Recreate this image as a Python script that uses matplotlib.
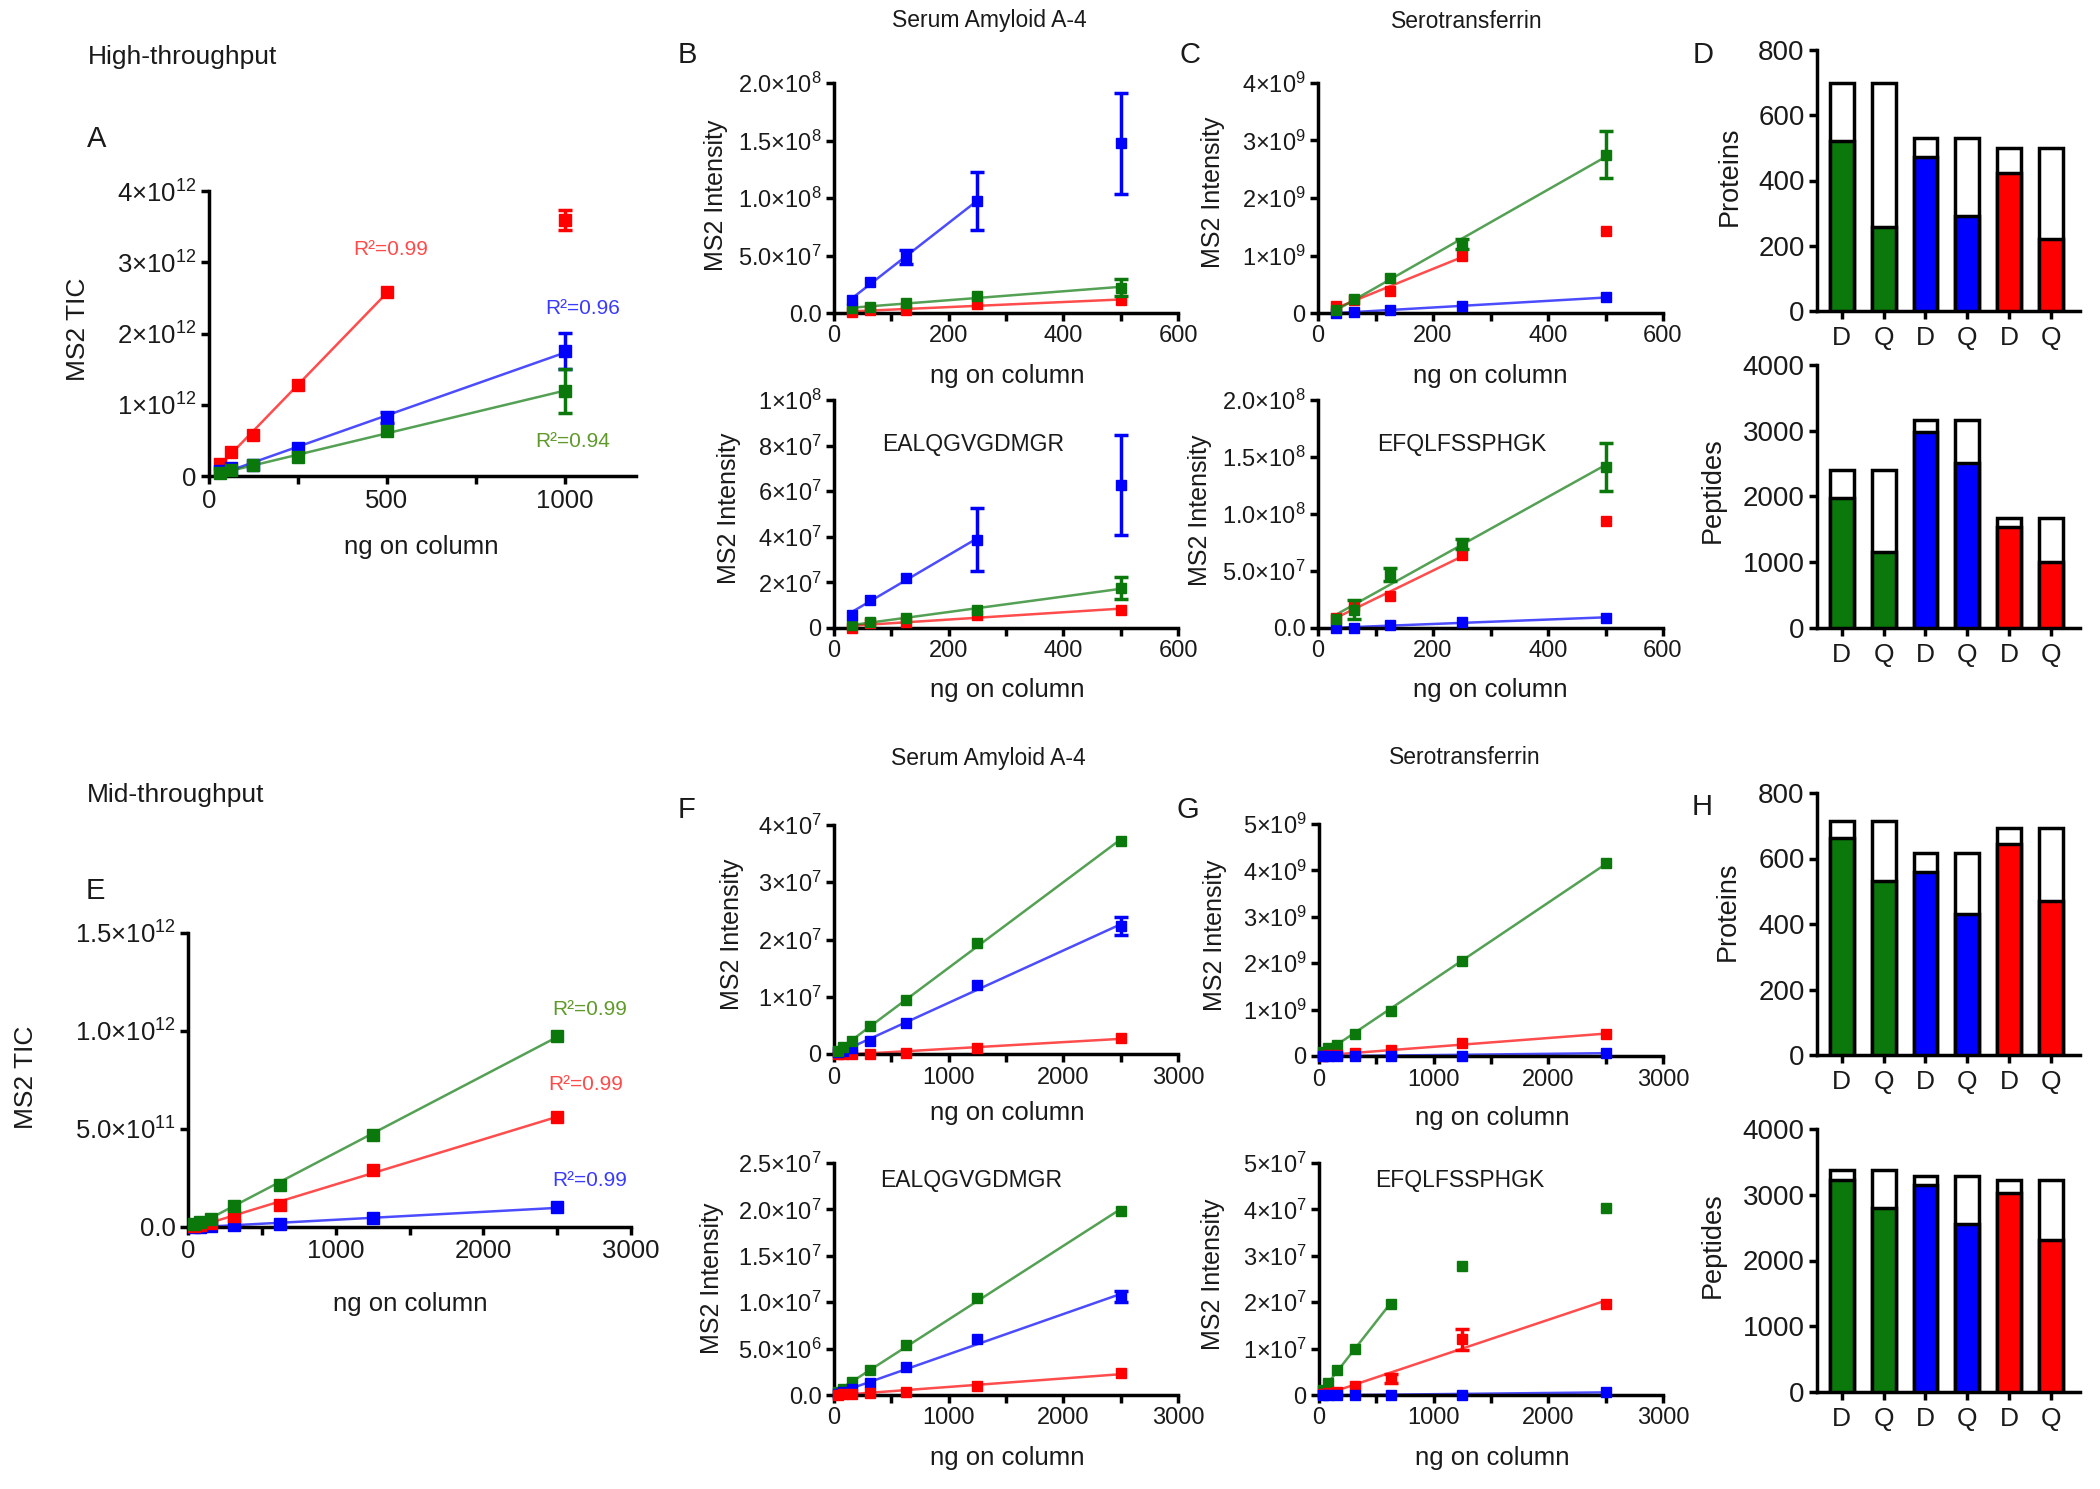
import numpy as np
import matplotlib
matplotlib.use('Agg')
import matplotlib.pyplot as plt

plt.rcParams['font.family'] = ['Liberation Sans', 'DejaVu Sans']
plt.rcParams['mathtext.fontset'] = 'custom'
plt.rcParams['mathtext.rm'] = 'Liberation Sans'
plt.rcParams['mathtext.it'] = 'Liberation Sans:italic'
plt.rcParams['mathtext.bf'] = 'Liberation Sans:bold'

GREEN = '#0b780b'
BLUE = '#0000ff'
RED = '#ff0000'

# ng on column
ng_high = [31.25, 62.5, 125, 250, 500, 1000]
ng_high_pep = [31.25, 62.5, 125, 250, 500]
ng_mid = [39.06, 78.125, 156.25, 312.5, 625, 1250, 2500]

# A - MS2 TIC, high-throughput
A_red = [0.17e12, 0.34e12, 0.58e12, 1.28e12, 2.58e12, 3.59e12]
A_red_err = [0, 0, 0, 0, 0, 0.14e12]
A_blue = [0.07e12, 0.11e12, 0.15e12, 0.39e12, 0.82e12, 1.755e12]
A_blue_err = [0, 0, 0, 0, 0.08e12, 0.255e12]
A_green = [0.04e12, 0.08e12, 0.15e12, 0.27e12, 0.63e12, 1.19e12]
A_green_err = [0, 0, 0, 0, 0, 0.31e12]

# B - Serum Amyloid A-4 (protein / EALQGVGDMGR)
B1_blue = [1.1e7, 2.7e7, 4.9e7, 9.75e7, 14.75e7]
B1_blue_err = [0, 0, 0.6e7, 2.5e7, 4.4e7]
B1_green = [0.4e7, 0.5e7, 0.9e7, 1.45e7, 2.2e7]
B1_green_err = [0, 0, 0, 0, 0.72e7]
B1_red = [0.05e7, 0.25e7, 0.3e7, 0.8e7, 1.1e7]
B2_blue = [0.58e7, 1.24e7, 2.2e7, 3.88e7, 6.26e7]
B2_blue_err = [0, 0, 0, 1.4e7, 2.2e7]
B2_green = [0.15e7, 0.25e7, 0.45e7, 0.8e7, 1.75e7]
B2_green_err = [0, 0, 0, 0, 0.47e7]
B2_red = [0.0, 0.2e7, 0.25e7, 0.55e7, 0.8e7]

# C - Serotransferrin (protein / EFQLFSSPHGK)
C1_green = [0.05e9, 0.25e9, 0.61e9, 1.2e9, 2.75e9]
C1_green_err = [0, 0, 0, 0.09e9, 0.41e9]
C1_red = [0.12e9, 0.22e9, 0.39e9, 1.0e9, 1.43e9]
C1_blue = [0.0, 0.01e9, 0.06e9, 0.12e9, 0.27e9]
C2_green = [0.08e8, 0.16e8, 0.47e8, 0.74e8, 1.41e8]
C2_green_err = [0, 0.085e8, 0.06e8, 0.045e8, 0.21e8]
C2_red = [0.09e8, 0.19e8, 0.28e8, 0.64e8, 0.94e8]
C2_blue = [0.0, 0.0, 0.03e8, 0.05e8, 0.09e8]

# E - MS2 TIC, mid-throughput
E_green = [0.014e12, 0.023e12, 0.043e12, 0.106e12, 0.215e12, 0.47e12, 0.977e12]
E_red = [0.005e12, 0.01e12, 0.02e12, 0.057e12, 0.11e12, 0.29e12, 0.56e12]
E_blue = [0.001e12, 0.002e12, 0.003e12, 0.01e12, 0.015e12, 0.045e12, 0.10e12]

# F - Serum Amyloid A-4, mid-throughput
F1_green = [0.06e7, 0.12e7, 0.22e7, 0.49e7, 0.94e7, 1.94e7, 3.72e7]
F1_blue = [0.03e7, 0.06e7, 0.1e7, 0.22e7, 0.545e7, 1.21e7, 2.23e7]
F1_blue_err = [0, 0, 0, 0, 0, 0, 0.16e7]
F1_red = [0.0, 0.0, 0.0, 0.0, 0.02e7, 0.105e7, 0.28e7]
F2_green = [0.03e7, 0.07e7, 0.137e7, 0.27e7, 0.54e7, 1.05e7, 1.98e7]
F2_blue = [0.015e7, 0.03e7, 0.06e7, 0.126e7, 0.3e7, 0.6e7, 1.06e7]
F2_blue_err = [0, 0, 0, 0, 0, 0, 0.06e7]
F2_red = [0.005e7, 0.01e7, 0.015e7, 0.025e7, 0.036e7, 0.097e7, 0.234e7]

# G - Serotransferrin, mid-throughput
G1_green = [0.08e9, 0.17e9, 0.24e9, 0.47e9, 0.96e9, 2.05e9, 4.16e9]
G1_red = [0.01e9, 0.02e9, 0.03e9, 0.07e9, 0.13e9, 0.27e9, 0.47e9]
G1_blue = [0, 0, 0, 0, 0.005e9, 0.01e9, 0.07e9]
G2_green = [0.1e7, 0.25e7, 0.54e7, 1.0e7, 1.97e7, 2.78e7, 4.02e7]
G2_red = [0.02e7, 0.05e7, 0.07e7, 0.2e7, 0.36e7, 1.2e7, 1.97e7]
G2_red_err = [0, 0, 0, 0, 0.1e7, 0.23e7, 0]
G2_blue = [0, 0, 0, 0, 0, 0, 0.07e7]

# D / H - identifications (total = open bar, filled = coloured part)
bar_labels = ['D', 'Q', 'D', 'Q', 'D', 'Q']
bar_colors = [GREEN, GREEN, BLUE, BLUE, RED, RED]
D_prot_total = [700, 700, 530, 530, 500, 500]
D_prot = [520, 258, 472, 290, 423, 220]
D_pep_total = [2400, 2400, 3170, 3170, 1675, 1675]
D_pep = [1975, 1155, 2985, 2515, 1540, 1000]
H_prot_total = [713, 713, 617, 617, 694, 694]
H_prot = [664, 530, 559, 431, 645, 471]
H_pep_total = [3375, 3375, 3285, 3285, 3228, 3228]
H_pep = [3228, 2800, 3150, 2560, 3028, 2315]

W, H = 2100, 1489
fig = plt.figure(figsize=(W / 100, H / 100), dpi=100)
TXT = '#1a1a1a'


def px_axes(x0, y0, x1, y1):
    return fig.add_axes([x0 / W, 1 - y1 / H, (x1 - x0) / W, (y1 - y0) / H])


def ftext(x, y, s, **kw):
    kw.setdefault('ha', 'center')
    kw.setdefault('va', 'center')
    kw.setdefault('color', TXT)
    fig.text(x / W, 1 - y / H, s, **kw)


def sci(v, dec):
    if v == 0:
        return '0' if dec == 0 else '0.' + '0' * dec
    e = int(np.floor(np.log10(v) + 1e-9))
    m = v / 10 ** e
    return '%.*f×10$^{%d}$' % (dec, m, e)


def style(ax, xmax, xmajor, xminor, yticks, ydec, fs=17):
    ax.set_xlim(0, xmax)
    ax.set_ylim(0, yticks[-1])
    for s in ['top', 'right']:
        ax.spines[s].set_visible(False)
    for s in ['left', 'bottom']:
        ax.spines[s].set_linewidth(2.5)
    ax.set_xticks(xmajor)
    ax.set_xticks(xminor, minor=True)
    ax.set_yticks(yticks)
    ax.set_yticklabels([sci(v, ydec) for v in yticks])
    ax.tick_params(which='both', direction='out', length=6, width=2.5,
                   labelsize=fs, colors='black', labelcolor=TXT, pad=3)
    ax.patch.set_alpha(0)


def curve(ax, x, y, color, n_fit, err=None, ms=6.5):
    x = np.asarray(x, float)
    y = np.asarray(y, float)
    coef = np.polyfit(x[:n_fit], y[:n_fit], 1)
    xf = np.array([x[0], x[n_fit - 1]])
    ax.plot(xf, np.polyval(coef, xf), color=color, lw=1.8, alpha=0.7, zorder=2)
    ax.plot(x, y, 's', color=color, ms=ms, zorder=4, clip_on=False)
    if err is not None:
        err = np.asarray(err, float)
        m = err > 0
        ax.errorbar(x[m], y[m], yerr=err[m], fmt='none', ecolor=color,
                    elinewidth=2.5, capsize=5, capthick=2.5, zorder=4, clip_on=False)


def bars(ax, total, found, yticks):
    pos = np.arange(len(total))
    ax.bar(pos, total, width=0.57, color='white', edgecolor='black', linewidth=2.5, zorder=2)
    ax.bar(pos, found, width=0.57, color=bar_colors, edgecolor='black', linewidth=2.5, zorder=3)
    ax.set_xlim(-0.59, 5.69)
    ax.set_ylim(0, yticks[-1])
    ax.set_xticks(pos)
    ax.set_xticklabels(bar_labels)
    ax.set_yticks(yticks)
    for s in ['top', 'right']:
        ax.spines[s].set_visible(False)
    for s in ['left', 'bottom']:
        ax.spines[s].set_linewidth(2.5)
    ax.tick_params(direction='out', length=6, width=2.5, labelsize=20, labelcolor=TXT, pad=3)
    ax.tick_params(axis='x', labelsize=19, pad=5)


x6 = ([0, 200, 400, 600], [100, 300, 500])
x3k = ([0, 1000, 2000, 3000], [500, 1500, 2500])

# ---- A
ax = px_axes(209, 191, 636, 476)
curve(ax, ng_high, A_red, RED, 5, A_red_err, ms=9)
curve(ax, ng_high, A_blue, BLUE, 6, A_blue_err, ms=9)
curve(ax, ng_high, A_green, GREEN, 6, A_green_err, ms=9)
style(ax, 1200, [0, 500, 1000], [250, 750], [0, 1e12, 2e12, 3e12, 4e12], 0, fs=18.5)
ax.text(512, 3.18e12, 'R²=0.99', color='#ff4a4a', fontsize=15, ha='center', va='center')
ax.text(1050, 2.35e12, 'R²=0.96', color='#3a3aff', fontsize=15, ha='center', va='center')
ax.text(1021, 0.48e12, 'R²=0.94', color='#5f9a2a', fontsize=15, ha='center', va='center')

# ---- B
ax = px_axes(834, 83, 1178, 313)
curve(ax, ng_high_pep, B1_red, RED, 5)
curve(ax, ng_high_pep, B1_green, GREEN, 5, B1_green_err)
curve(ax, ng_high_pep, B1_blue, BLUE, 4, B1_blue_err)
style(ax, 600, *x6, [0, 5e7, 1e8, 1.5e8, 2e8], 1)

ax = px_axes(834, 400, 1178, 628)
curve(ax, ng_high_pep, B2_red, RED, 5)
curve(ax, ng_high_pep, B2_green, GREEN, 5, B2_green_err)
curve(ax, ng_high_pep, B2_blue, BLUE, 4, B2_blue_err)
style(ax, 600, *x6, [0, 2e7, 4e7, 6e7, 8e7, 1e8], 0)

# ---- C
ax = px_axes(1318, 83, 1663, 313)
curve(ax, ng_high_pep, C1_blue, BLUE, 5)
curve(ax, ng_high_pep, C1_red, RED, 4)
curve(ax, ng_high_pep, C1_green, GREEN, 5, C1_green_err)
style(ax, 600, *x6, [0, 1e9, 2e9, 3e9, 4e9], 0)

ax = px_axes(1318, 400, 1663, 628)
curve(ax, ng_high_pep, C2_blue, BLUE, 5)
curve(ax, ng_high_pep, C2_red, RED, 4)
curve(ax, ng_high_pep, C2_green, GREEN, 5, C2_green_err)
style(ax, 600, *x6, [0, 5e7, 1e8, 1.5e8, 2e8], 1)

# ---- D
ax = px_axes(1817, 50, 2080, 311)
bars(ax, D_prot_total, D_prot, [0, 200, 400, 600, 800])
ax = px_axes(1817, 365, 2080, 628)
bars(ax, D_pep_total, D_pep, [0, 1000, 2000, 3000, 4000])

# ---- E
ax = px_axes(188, 933, 631, 1227)
curve(ax, ng_mid, E_blue, BLUE, 7, ms=9)
curve(ax, ng_mid, E_red, RED, 7, ms=9)
curve(ax, ng_mid, E_green, GREEN, 7, ms=9)
style(ax, 3000, *x3k, [0, 5e11, 1e12, 1.5e12], 1, fs=18.5)
ax.text(2721, 1.109e12, 'R²=0.99', color='#5f9a2a', fontsize=15, ha='center', va='center')
ax.text(2692, 0.728e12, 'R²=0.99', color='#ff4a4a', fontsize=15, ha='center', va='center')
ax.text(2721, 0.239e12, 'R²=0.99', color='#3a3aff', fontsize=15, ha='center', va='center')

# ---- F
ax = px_axes(834, 825, 1178, 1054)
curve(ax, ng_mid, F1_red, RED, 7)
curve(ax, ng_mid, F1_blue, BLUE, 7, F1_blue_err)
curve(ax, ng_mid, F1_green, GREEN, 7)
style(ax, 3000, *x3k, [0, 1e7, 2e7, 3e7, 4e7], 0)

ax = px_axes(834, 1163, 1178, 1395)
curve(ax, ng_mid, F2_green, GREEN, 7)
curve(ax, ng_mid, F2_blue, BLUE, 7, F2_blue_err)
curve(ax, ng_mid, F2_red, RED, 7)
style(ax, 3000, *x3k, [0, 5e6, 1e7, 1.5e7, 2e7, 2.5e7], 1)

# ---- G
ax = px_axes(1319, 824, 1663, 1056)
curve(ax, ng_mid, G1_green, GREEN, 7)
curve(ax, ng_mid, G1_red, RED, 7)
curve(ax, ng_mid, G1_blue, BLUE, 7)
style(ax, 3000, *x3k, [0, 1e9, 2e9, 3e9, 4e9, 5e9], 0)

ax = px_axes(1319, 1163, 1663, 1395)
curve(ax, ng_mid, G2_green, GREEN, 5)
curve(ax, ng_mid, G2_red, RED, 7, G2_red_err)
curve(ax, ng_mid, G2_blue, BLUE, 7)
style(ax, 3000, *x3k, [0, 1e7, 2e7, 3e7, 4e7, 5e7], 0)

# ---- H
ax = px_axes(1817, 793, 2080, 1055)
bars(ax, H_prot_total, H_prot, [0, 200, 400, 600, 800])
ax = px_axes(1817, 1129, 2080, 1392)
bars(ax, H_pep_total, H_pep, [0, 1000, 2000, 3000, 4000])

# ---- labels
ftext(88, 57, 'High-throughput', ha='left', fontsize=19)
ftext(87, 795, 'Mid-throughput', ha='left', fontsize=19)
for s, x, y in [('A', 97, 139), ('B', 687, 55), ('C', 1190, 55), ('D', 1703, 55),
                ('E', 95, 891), ('F', 686, 810), ('G', 1188, 810), ('H', 1702, 807)]:
    ftext(x, y, s, fontsize=21)

for x, y in [(989, 20), (988, 759)]:
    ftext(x, y, 'Serum Amyloid A-4', fontsize=16.5)
for x, y in [(1467, 22), (1465, 758)]:
    ftext(x, y, 'Serotransferrin', fontsize=16.5)
for x, y in [(973, 445), (971, 1180)]:
    ftext(x, y, 'EALQGVGDMGR', fontsize=16.5)
for x, y in [(1462, 445), (1460, 1180)]:
    ftext(x, y, 'EFQLFSSPHGK', fontsize=16.5)

ftext(78, 329, 'MS2 TIC', rotation=90, fontsize=19)
ftext(26, 1077, 'MS2 TIC', rotation=90, fontsize=19)
for x, y in [(716, 195), (729, 508), (1213, 192), (1200, 510),
             (732, 934), (712, 1278), (1215, 935), (1213, 1274)]:
    ftext(x, y, 'MS2 Intensity', rotation=90, fontsize=18)
for x, y in [(1730, 176), (1728, 911)]:
    ftext(x, y, 'Proteins', rotation=90, fontsize=19.5)
for x, y in [(1713, 490), (1713, 1245)]:
    ftext(x, y, 'Peptides', rotation=90, fontsize=19.5)

for x, y in [(421, 547), (1007, 376), (1490, 376), (1007, 690), (1490, 690),
             (410, 1304), (1007, 1113), (1492, 1118), (1007, 1458), (1492, 1458)]:
    ftext(x, y, 'ng on column', fontsize=18.5)

plt.savefig('out.png', dpi=100)
